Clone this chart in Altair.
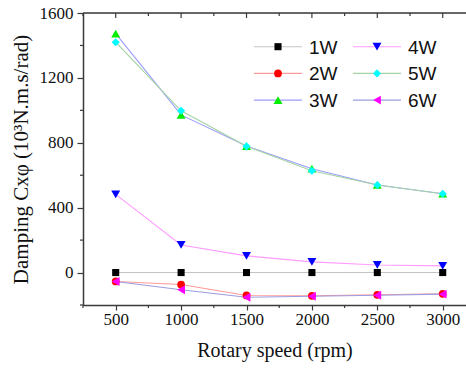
import altair as alt
import pandas as pd

speeds = [500, 1000, 1500, 2000, 2500, 3000]
series = ["1W", "2W", "3W", "4W", "5W", "6W"]
w1 = [0, 0, 0, 0, 0, 0]
w2 = [-55, -74, -141, -143, -137, -131]
w3 = [1473, 972, 780, 640, 540, 486]
w4 = [482, 170, 103, 66, 47, 41]
w5 = [1420, 997, 778, 628, 540, 486]
w6 = [-55, -106, -152, -146, -140, -133]
values = [w1, w2, w3, w4, w5, w6]

line_colors = ["#c4c4c4", "#ff9a9a", "#9c9cff", "#ff9cff", "#a4d4a4", "#9c9ce0"]
marker_colors = ["#000000", "#ff0000", "#00ee00", "#0000ff", "#00ffff", "#ff00ff"]
shapes = ["square", "circle", "triangle-up", "triangle-down", "diamond", "triangle-left"]
sizes = [50, 60, 80, 80, 65, 80]

x_major = [500, 1000, 1500, 2000, 2500, 3000]
x_minor = [250, 750, 1250, 1750, 2250, 2750]
y_major = [0, 400, 800, 1200, 1600]
y_minor = [-200, 200, 600, 1000, 1400]

W, H = 383, 292
X_DOMAIN = [250, 3178]
Y_DOMAIN = [-200, 1600]
SERIF = "Liberation Serif"
SANS = "Liberation Sans"
AXIS_COLOR = "#3a3a3a"

rows = []
for name, vals in zip(series, values):
    for s, v in zip(speeds, vals):
        rows.append({"series": name, "speed": s, "value": v})
df = pd.DataFrame(rows)

xscale = alt.Scale(domain=X_DOMAIN, nice=False, zero=False)
yscale = alt.Scale(domain=Y_DOMAIN, nice=False, zero=False)

xaxis = alt.Axis(values=x_major, format="d", title="Rotary speed (rpm)", grid=False,
                 tickSize=5, tickColor=AXIS_COLOR, tickWidth=1.2,
                 domainColor=AXIS_COLOR, domainWidth=1.5,
                 labelFont=SERIF, labelFontSize=17, labelColor="#111111", labelPadding=1,
                 titleFont=SERIF, titleFontSize=20, titleFontWeight="normal", titleColor="#111111",
                 titlePadding=13)
yaxis = alt.Axis(values=y_major, format="d", title="Damping Cxφ (10³N.m.s/rad)", grid=False,
                 tickSize=6, tickColor=AXIS_COLOR, tickWidth=1.2,
                 domainColor=AXIS_COLOR, domainWidth=1.5,
                 labelFont=SERIF, labelFontSize=17, labelColor="#111111", labelPadding=4,
                 titleFont=SERIF, titleFontSize=21, titleFontWeight="normal", titleColor="#111111",
                 titlePadding=8)

layers = []

base = alt.Chart(df).mark_point(opacity=0).encode(
    x=alt.X("speed:Q", scale=xscale, axis=xaxis),
    y=alt.Y("value:Q", scale=yscale, axis=yaxis),
)
layers.append(base)

for i, name in enumerate(series):
    sub = df[df["series"] == name]
    layers.append(
        alt.Chart(sub).mark_line(color=line_colors[i], strokeWidth=1.1).encode(
            x=alt.X("speed:Q", scale=xscale),
            y=alt.Y("value:Q", scale=yscale),
        )
    )
for i, name in enumerate(series):
    sub = df[df["series"] == name]
    layers.append(
        alt.Chart(sub).mark_point(shape=shapes[i], filled=True, fill=marker_colors[i],
                                  strokeWidth=0, size=sizes[i], opacity=1).encode(
            x=alt.X("speed:Q", scale=xscale),
            y=alt.Y("value:Q", scale=yscale),
        )
    )

xminor_df = pd.DataFrame({"v": x_minor})
xmajor_df = pd.DataFrame({"v": x_major})
yminor_df = pd.DataFrame({"v": y_minor})
layers.append(alt.Chart(xminor_df).mark_rule(color=AXIS_COLOR, strokeWidth=1.2).encode(
    x=alt.X("v:Q", scale=xscale), y=alt.value(H), y2=alt.value(H + 3)))
layers.append(alt.Chart(yminor_df).mark_rule(color=AXIS_COLOR, strokeWidth=1.2).encode(
    y=alt.Y("v:Q", scale=yscale), x=alt.value(0), x2=alt.value(-3)))
layers.append(alt.Chart(xminor_df).mark_rule(color=AXIS_COLOR, strokeWidth=1.2).encode(
    x=alt.X("v:Q", scale=xscale), y=alt.value(0), y2=alt.value(3)))
layers.append(alt.Chart(xmajor_df).mark_rule(color=AXIS_COLOR, strokeWidth=1.2).encode(
    x=alt.X("v:Q", scale=xscale), y=alt.value(0), y2=alt.value(5)))
layers.append(alt.Chart(alt.Data(values=[{}])).mark_rule(color=AXIS_COLOR, strokeWidth=1.5).encode(
    x=alt.value(0), x2=alt.value(W), y=alt.value(0)))

dummy = alt.Data(values=[{}])
for i, name in enumerate(series):
    col, row = i // 3, i % 3
    lx = 171 + col * 99
    ly = 33.7 + row * 26.7
    layers.append(alt.Chart(dummy).mark_rule(color=line_colors[i], strokeWidth=1.1).encode(
        x=alt.value(lx), x2=alt.value(lx + 48), y=alt.value(ly)))
    layers.append(alt.Chart(dummy).mark_point(shape=shapes[i], filled=True, fill=marker_colors[i],
                                              strokeWidth=0, size=sizes[i], opacity=1).encode(
        x=alt.value(lx + 24), y=alt.value(ly)))
    layers.append(alt.Chart(dummy).mark_text(text=name, font=SANS, fontSize=19, align="left",
                                             baseline="middle", color="#111111").encode(
        x=alt.value(lx + 55), y=alt.value(ly + 1)))

chart = alt.layer(*layers).properties(
    width=W, height=H,
    autosize=alt.AutoSizeParams(type="none"),
    padding={"left": 83, "top": 13, "right": 0, "bottom": 64},
).configure_view(strokeWidth=0).configure(background="white")

chart.save("out.html", embed_options={"renderer": "svg", "actions": False})
